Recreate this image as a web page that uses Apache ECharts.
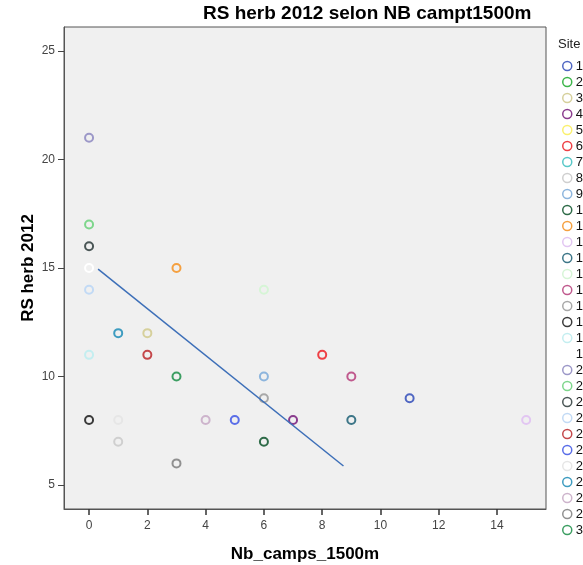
<!DOCTYPE html>
<html>
<head>
<meta charset="utf-8">
<script src="https://cdn.jsdelivr.net/npm/echarts@6/dist/echarts.min.js"></script>
<style>
html,body{margin:0;padding:0;background:#fff;}
#chart{width:583px;height:565px;}
</style>
</head>
<body>
<div id="chart"></div>
<script>
// Site categories (legend)
const siteNames = ['1','2','3','4','5','6','7','8','9','10','11','12','13','14','15','16','17','18','19','20','21','22','23','24','25','26','27','28','29','30'];
// Nb_camps_1500m per site (null = no visible point)
const siteX = [11, null, 2, 7, null, 8, null, 1, 6, 6, 3, 15, 9, 6, 9, 6, 0, 0, 0, 0, 0, 0, 0, 2, 5, 1, 1, 4, 3, 3];
// RS herb 2012 per site
const siteY = [9, null, 12, 8, null, 11, null, 7, 10, 7, 15, 8, 8, 14, 10, 9, 8, 11, 15, 21, 17, 16, 14, 11, 8, 8, 12, 8, 6, 10];
const siteColors = ['#4F66C2','#3CB54A','#D6D09C','#8A3C8E','#FAF06E','#EE4045','#58C8C8','#CFCFCF','#8DB5DD','#2E6B48',
  '#F5A040','#E2C6F2','#3D7688','#D6F5D6','#C05A8E','#A8A8A8','#3A3A3A','#C4EEF0','#FFFFFF','#9C98C8',
  '#7ED68C','#4A5656','#C2DAF5','#C4474A','#5A6EE8','#E6E6E6','#3E9CC0','#CDB4CC','#909090','#3C9E62'];
// Fit line endpoints
const fitX = [0.31, 8.73];
const fitY = [14.95, 5.88];
// Tick labels
const xTicks = [0, 2, 4, 6, 8, 10, 12, 14];
const yTicks = [5, 10, 15, 20, 25];

const FONT = 'Arial, "Liberation Sans", sans-serif';
const chart = echarts.init(document.getElementById('chart'), null, {renderer: 'canvas'});

const series = siteNames.map((n, i) => ({
  name: n,
  type: 'scatter',
  symbol: 'circle',
  symbolSize: 8,
  itemStyle: {color: 'rgba(0,0,0,0)', borderColor: siteColors[i], borderWidth: 2, opacity: 1},
  data: siteX[i] === null ? [] : [[siteX[i], siteY[i]]],
  z: 3
}));
series.push({
  name: 'fit',
  type: 'line',
  symbol: 'none',
  data: fitX.map((x, i) => [x, fitY[i]]),
  lineStyle: {color: '#3D6FB8', width: 1.5},
  z: 4
});

chart.setOption({
  animation: false,
  backgroundColor: '#fff',
  title: [
    {text: 'RS herb 2012 selon NB campt1500m', left: 203, top: 4, padding: 0,
     textStyle: {fontFamily: FONT, fontSize: 19, fontWeight: 'bold', color: '#000'}},
    {text: 'Site', left: 558, top: 38, padding: 0,
     textStyle: {fontFamily: FONT, fontSize: 13, fontWeight: 'normal', color: '#222'}}
  ],
  legend: {
    data: siteNames,
    orient: 'vertical',
    left: 562,
    top: 59,
    itemWidth: 9,
    itemHeight: 9,
    itemGap: 2,
    icon: 'circle',
    padding: 0,
    itemStyle: {borderWidth: 1.5},
    textStyle: {fontFamily: FONT, fontSize: 13, color: '#111', lineHeight: 14, padding: [0,0,0,-1]}
  },
  grid: {left: 64, right: 37, top: 27, bottom: 56, show: true,
         outerBoundsMode: 'none',
         backgroundColor: '#F0F0F0', borderColor: '#555', borderWidth: 1},
  xAxis: {
    type: 'value', min: -0.86, max: 15.68,
    name: 'Nb_camps_1500m', nameLocation: 'middle', nameGap: 37, nameMoveOverlap: false,
    nameTextStyle: {fontFamily: FONT, fontSize: 17, fontWeight: 'bold', color: '#000'},
    axisLine: {show: true, onZero: false, lineStyle: {color: '#555'}},
    splitLine: {show: false},
    axisTick: {show: true, length: 6, lineStyle: {color: '#333', width: 1.5}, customValues: xTicks},
    axisLabel: {fontFamily: FONT, fontSize: 12, color: '#444', margin: 11, customValues: xTicks}
  },
  yAxis: {
    type: 'value', min: 3.9, max: 26.1,
    name: 'RS herb 2012', nameLocation: 'middle', nameGap: 27, nameMoveOverlap: false,
    nameTextStyle: {fontFamily: FONT, fontSize: 17, fontWeight: 'bold', color: '#000'},
    axisLine: {show: true, onZero: false, lineStyle: {color: '#555'}},
    splitLine: {show: false},
    axisTick: {show: true, length: 6, lineStyle: {color: '#444'}, customValues: yTicks},
    axisLabel: {fontFamily: FONT, fontSize: 12, color: '#444', margin: 9, customValues: yTicks}
  },
  series: series
});
</script>
</body>
</html>
